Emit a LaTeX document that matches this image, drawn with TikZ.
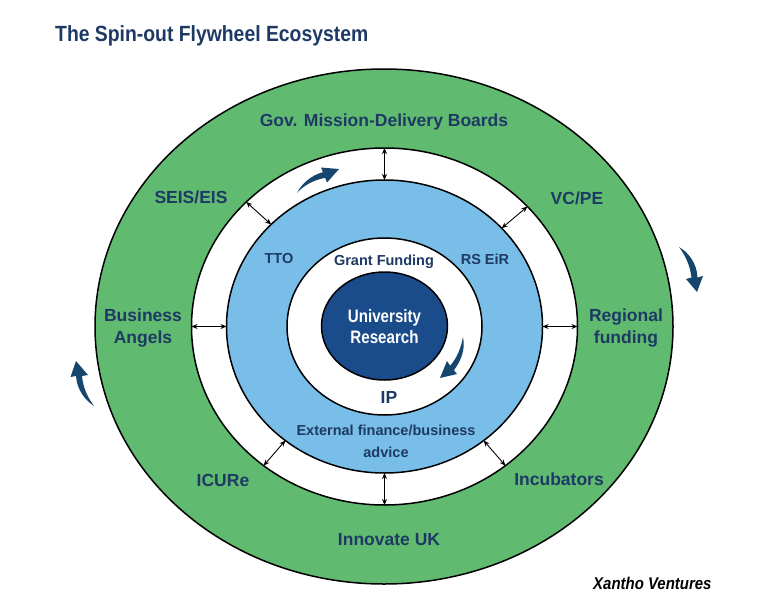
\documentclass[tikz,border=0pt]{standalone}
\usepackage{fontspec}
\setmainfont{Liberation Sans}
\newfontfamily\titlefont[FakeStretch=0.88]{Liberation Sans}
\newfontfamily\condfont[FakeStretch=0.84]{Liberation Sans}
\usetikzlibrary{shapes.geometric,arrows.meta}
\definecolor{navy}{HTML}{1E3A64}
\definecolor{ringgreen}{HTML}{60BA6F}
\definecolor{ringblue}{HTML}{78BEE8}
\definecolor{coreblue}{HTML}{1A4C8B}
\definecolor{flowblue}{HTML}{16466E}
\begin{document}
\begin{tikzpicture}[x=1pt,y=-1pt,
  ring/.style={ellipse,draw=black,line width=1.5pt,inner sep=0pt,outer sep=0pt},
  link/.style={{Stealth[length=6pt,width=5pt]}-{Stealth[length=6pt,width=5pt]},line width=0.9pt,black},
  outerlbl/.style={font=\bfseries\fontsize{17.5}{22}\selectfont,text=navy,align=center,inner sep=0pt},
  innerlbl/.style={font=\bfseries\fontsize{14.5}{22}\selectfont,text=navy,align=center,inner sep=0pt},
  flow/.style={fill=flowblue}]
\useasboundingbox (0,0) rectangle (768,610);
% title
\node[anchor=base west,inner sep=0pt,text=navy,font=\titlefont\bfseries\fontsize{22}{24}\selectfont] (title) at (55,42) {The Spin-out Flywheel Ecosystem};
% rings
\node[ring,fill=ringgreen,minimum width=578pt,minimum height=515pt] (outer) at (384,326.5) {};
\node[ring,fill=white,minimum width=386pt,minimum height=357pt] (mid) at (384.5,326.5) {};
\node[ring,fill=ringblue,minimum width=316pt,minimum height=293pt] (blue) at (384.5,326.5) {};
\node[ring,fill=white,minimum width=195pt,minimum height=177pt] (inner) at (384.5,326.5) {};
\node[ring,fill=coreblue,minimum width=126pt,minimum height=108pt] (core) at (384.5,326) {};
% connectors
\draw[link] (mid.90) -- (blue.90);
\draw[link] (mid.270) -- (blue.270);
\draw[link] (mid.180) -- (blue.180);
\draw[link] (mid.0) -- (blue.0);
\draw[link] (mid.138.5) -- (blue.138.5);
\draw[link] (mid.40.7) -- (blue.40.7);
\draw[link] (mid.229) -- (blue.229);
\draw[link] (mid.311.8) -- (blue.311.8);
% outer labels
\node[outerlbl] (gov) at (384,122) {Gov. Mission-Delivery Boards};
\node[outerlbl] (seis) at (191,197) {SEIS/EIS};
\node[outerlbl] (vcpe) at (577,198) {VC/PE};
\node[outerlbl] (angels) at (143,328) {Business\\Angels};
\node[outerlbl] (regional) at (626,328) {Regional\\funding};
\node[outerlbl] (icure) at (223,480) {ICURe};
\node[outerlbl] (incub) at (559,479) {Incubators};
\node[outerlbl] (innov) at (389,540) {Innovate UK};
% inner labels
\node[innerlbl] (tto) at (279,259) {TTO};
\node[innerlbl] (grant) at (384,262) {Grant Funding};
\node[innerlbl] (rseir) at (485,259) {RS EiR};
\node[innerlbl] (ext) at (386,441) {External finance/business\\advice};
\node[outerlbl] (ip) at (389,397) {IP};
\node[align=center,inner sep=0pt,text=white,font=\condfont\bfseries\fontsize{18}{21}\selectfont] (univ) at (384.5,326.5) {University\\Research};
% signature
\node[anchor=base west,inner sep=0pt,text=black,font=\titlefont\bfseries\itshape\fontsize{17}{19}\selectfont] (sig) at (593,589) {Xantho Ventures};
% flywheel arrows
\fill[flow] (297,193) .. controls (302,183) and (312,175) .. (322.9,172.2) -- (321,167.5) -- (339,169) -- (327,182.5) -- (325.1,177.8) .. controls (314,180) and (304,185) .. (297,193) -- cycle;
\fill[flow] (463,337) .. controls (466,350) and (460,362) .. (453.9,370.3) -- (457,374) -- (440,378) -- (447,361) -- (450.1,365.7) .. controls (457,358) and (461,348) .. (463,337) -- cycle;
\fill[flow] (679,247) .. controls (688,252) and (697,263) .. (697.5,277.5) -- (703,276) -- (697,292) -- (686,279) -- (691.5,277.5) .. controls (690,265) and (685,255) .. (679,247) -- cycle;
\fill[flow] (94,406) .. controls (85,400) and (77,390) .. (76,376) -- (70.5,377) -- (76,361) -- (88,375) -- (82,376) .. controls (83,388) and (88,398) .. (94,406) -- cycle;
\end{tikzpicture}
\end{document}
